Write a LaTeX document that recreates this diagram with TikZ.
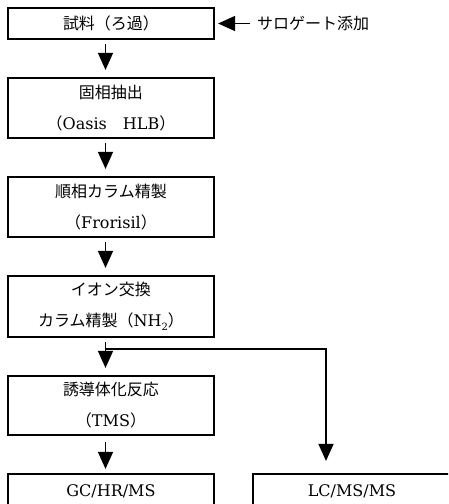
\documentclass[tikz,border=0pt]{standalone}
\usepackage{fontspec}
\setmainfont{DejaVu Serif}
\newfontfamily\cjk{Noto Sans CJK JP}
\usetikzlibrary{arrows.meta}
\begin{document}
\begin{tikzpicture}[x=1pt,y=-1pt,
  box/.style={draw,line width=2.2pt,minimum width=206pt,inner sep=0pt,align=center,
    font=\fontsize{16}{31}\selectfont},
  conn/.style={line width=1.5pt,-{Triangle[length=17pt,width=15pt]}},
  plain/.style={line width=1.5pt}]
\useasboundingbox (0,0) rectangle (448,504);
\clip (0,0) rectangle (448,504);
\node[box,minimum height=31pt] (b1) at (111,23.5) {{\cjk 試料（ろ過）}};
\node[box,minimum height=60pt] (b2) at (111,108) {{\cjk 固相抽出}\\{\cjk （}Oasis{\cjk 　}HLB{\cjk ）}};
\node[box,minimum height=60pt] (b3) at (111,207) {{\cjk 順相カラム精製}\\{\cjk （}Frorisil{\cjk ）}};
\node[box,minimum height=61pt] (b4) at (111,306.5) {{\cjk イオン交換}\\{\cjk カラム精製（}NH\raisebox{-3.5pt}{\fontsize{10}{10}\selectfont 2}{\cjk ）}};
\node[box,minimum height=59pt] (b5) at (111,405.5) {{\cjk 誘導体化反応}\\{\cjk （}TMS{\cjk ）}};
\node[box,minimum height=34pt] (b6) at (111,491) {GC/HR/MS};
\node[box,minimum height=34pt,minimum width=198pt] (b7) at (352,491) {LC/MS/MS};
\node[anchor=west,inner sep=0pt,font=\fontsize{16}{16}\selectfont] (sur) at (257,23.5) {{\cjk サロゲート添加}};
\coordinate (sfrom) at (250,23.5);
\draw[conn,shorten >=3pt] (sfrom) -- (b1.east);
\draw[conn,shorten <=4pt,shorten >=7pt] ([xshift=-5.5pt]b1.south) -- ([xshift=-5.5pt]b2.north);
\draw[conn,shorten <=4pt,shorten >=7pt] ([xshift=-5.5pt]b2.south) -- ([xshift=-5.5pt]b3.north);
\draw[conn,shorten <=4pt,shorten >=7pt] ([xshift=-5.5pt]b3.south) -- ([xshift=-5.5pt]b4.north);
\draw[conn,shorten <=4pt,shorten >=7pt] ([xshift=-5.5pt]b4.south) -- ([xshift=-5.5pt]b5.north);
\draw[conn,shorten <=6pt,shorten >=4pt] ([xshift=-5.5pt]b5.south) -- ([xshift=-5.5pt]b6.north);
\coordinate (split) at (105.5,349);
\draw[conn,shorten >=12pt] (split) -| ([xshift=-26pt]b7.north);
\end{tikzpicture}
\end{document}
